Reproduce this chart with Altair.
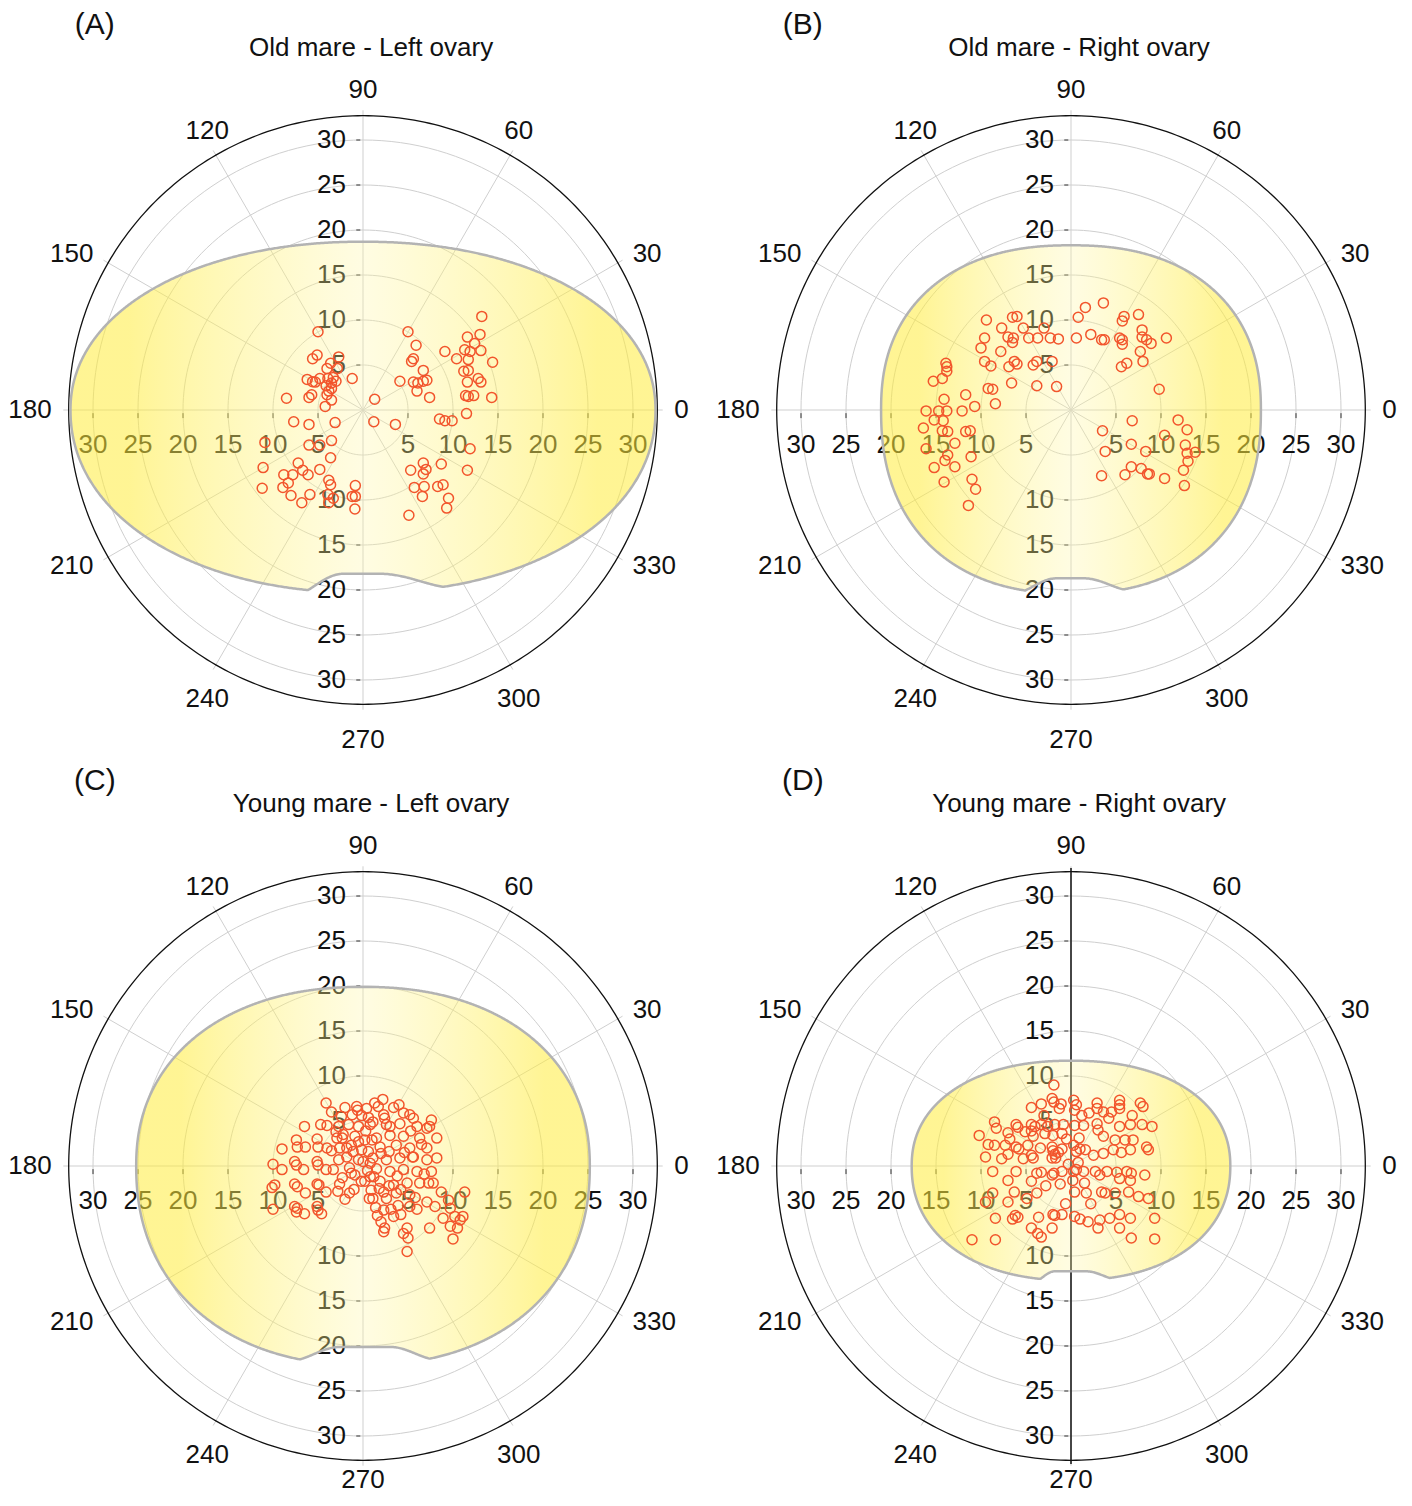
import math
import numpy as np
import pandas as pd
import altair as alt

FONT = "Liberation Sans, Arial, Helvetica, sans-serif"

# ---------------- panel meta ----------------
PANELS = ["A", "B", "C", "D"]
LETTERS = ["(A)", "(B)", "(C)", "(D)"]
TITLES = ["Old mare - Left ovary", "Old mare - Right ovary",
          "Young mare - Left ovary", "Young mare - Right ovary"]
PANEL_DX = [0.0, 708 / 9, 0.0, 708 / 9]
PANEL_DY = [0.0, 0.0, -84.0, -84.0]

GRID_R = [5, 10, 15, 20, 25, 30]
OUTER_R = 32.7
ANGLES = list(range(0, 360, 30))
TOP_TICKS = [5, 10, 15, 20, 25, 30]
BOTTOM_TICKS = [10, 15, 20, 25, 30]
SIDE_TICKS = [5, 10, 15, 20, 25, 30]

# ---------------- ovary outline parameters (mm) ----------------
SHAPE_HALF_WIDTH = [32.5, 21.1, 25.2, 17.7]
SHAPE_TOP = [18.7, 18.3, 19.9, 11.7]
SHAPE_BOTTOM = [20.3, 20.4, 22.1, 12.7]
SHAPE_EXP = [2.1, 2.3, 2.2, 2.2]
NOTCH_LEVEL = [18.2, 18.7, 20.1, 11.7]
NOTCH_OUTER_L = [-6.1, -5.1, -7.0, -3.4]
NOTCH_INNER_L = [-2.2, -1.6, -2.5, -1.8]
NOTCH_INNER_R = [1.9, 1.4, 3.0, 1.7]
NOTCH_OUTER_R = [8.9, 5.8, 7.4, 4.3]

# ---------------- follicle positions (mm, x / y) ----------------
POINTS_A = [
    (-5.0, 8.7), (-5.1, 6.1), (-5.6, 5.7), (-2.7, 5.9), (-3.6, 5.2), (-4.0, 4.6), (-2.85, 4.6),
    (-1.2, 3.5), (-6.2, 3.4), (-5.6, 3.15), (-4.8, 3.5), (-5.3, 3.1), (-3.9, 3.5), (-3.3, 3.6),
    (-3.0, 3.2), (-3.5, 3.0), (-4.1, 2.7), (-3.8, 2.1), (-3.5, 2.4), (-8.5, 1.3), (-6.0, 1.4),
    (-5.7, 1.7), (-4.0, 1.7), (-3.5, 1.1), (-4.2, 0.4),
    (-7.7, -1.3), (-6.0, -1.6), (-3.1, -1.4), (-10.9, -3.6), (-6.0, -3.9), (-4.8, -3.9),
    (-3.5, -3.4), (-3.6, -5.3), (-11.1, -6.4), (-7.2, -5.9), (-6.7, -6.7), (-4.8, -6.6),
    (-6.1, -7.2), (-8.8, -7.2), (-7.8, -7.2), (-8.3, -8.1), (-8.9, -8.6), (-11.2, -8.7),
    (-8.0, -9.5), (-6.8, -10.3), (-5.9, -9.4), (-3.8, -7.8), (-3.6, -8.3), (-3.9, -9.4),
    (-3.3, -9.8), (-3.8, -10.3), (-0.85, -8.4), (-1.2, -9.6), (-0.85, -9.6), (-0.9, -11.0),
    (5.0, 8.7), (5.9, 7.2), (5.6, 5.7), (5.4, 5.4), (6.7, 4.4), (4.1, 3.2), (5.6, 3.1),
    (6.1, 3.0), (6.7, 3.2), (7.1, 3.3), (6.0, 2.1), (7.4, 1.4),
    (13.2, 10.4), (11.6, 8.1), (13.0, 8.4), (12.4, 7.4), (11.3, 6.7), (11.9, 6.5), (13.1, 6.6),
    (9.1, 6.5), (10.4, 5.7), (11.7, 5.6), (14.4, 5.3), (11.2, 4.3), (11.7, 4.4), (11.6, 3.1),
    (12.8, 3.5), (13.1, 3.1), (11.4, 1.6), (11.7, 1.5), (12.3, 1.6), (14.3, 1.4), (11.5, -0.4),
    (1.3, 1.2), (1.2, -1.3), (3.6, -1.6), (8.5, -1.0), (9.1, -1.2), (9.9, -1.2), (11.9, -4.3),
    (11.6, -6.7), (6.7, -5.9), (7.0, -6.6), (5.3, -6.7), (6.7, -7.1), (8.7, -6.0), (5.7, -8.6),
    (6.8, -8.5), (6.6, -9.6), (8.3, -8.5), (8.9, -8.3), (9.5, -9.8), (9.3, -10.9), (5.1, -11.7),
]

POINTS_B = [
    (-9.4, 10.0), (-6.5, 10.3), (-6.0, 10.4), (-7.7, 9.1), (-5.3, 9.1), (-3.0, 9.1), (-9.6, 8.0),
    (-10.0, 6.9), (-7.0, 8.1), (-6.4, 8.0), (-6.5, 7.5), (-4.7, 8.0), (-3.7, 8.0), (-2.3, 8.0),
    (-1.4, 7.9), (-7.8, 6.5), (-9.6, 5.4), (-8.9, 4.9), (-6.9, 4.8), (-6.3, 5.4), (-6.0, 5.1),
    (-4.2, 5.0), (-3.8, 5.4), (-2.1, 5.4), (-9.2, 2.4), (-8.7, 2.3), (-6.6, 3.0), (-3.8, 2.7),
    (-1.6, 2.6), (-8.4, 0.7),
    (-13.9, 5.2), (-13.8, 4.8), (-13.8, 4.3), (-14.3, 3.5), (-15.3, 3.2), (-11.7, 1.7),
    (-14.1, 1.2), (-10.7, 0.4), (-16.1, -0.1), (-14.7, -0.1), (-13.8, -0.1), (-12.1, -0.1),
    (-15.2, -1.1), (-14.2, -1.2), (-16.4, -2.0), (-14.3, -2.3), (-13.7, -2.4), (-11.7, -2.4),
    (-11.2, -2.3), (-12.9, -3.7), (-16.1, -4.3), (-13.7, -5.0), (-11.1, -5.2), (-14.0, -5.6),
    (-15.2, -6.4), (-12.9, -6.3), (-14.1, -8.0), (-11.0, -7.7), (-10.6, -8.8), (-11.4, -10.6),
    (1.6, 11.4), (3.6, 11.9), (0.8, 10.3), (5.9, 10.4), (5.7, 9.9), (7.5, 10.6), (2.2, 8.4),
    (0.6, 8.0), (3.4, 7.8), (3.7, 7.8), (5.4, 8.0), (5.7, 7.8), (5.7, 7.3), (7.9, 8.9),
    (7.9, 8.1), (8.4, 7.8), (8.9, 7.4), (10.6, 8.0), (7.7, 6.5), (8.0, 5.4), (6.2, 5.2),
    (5.6, 4.8), (9.8, 2.3),
    (6.8, -1.2), (3.5, -2.3), (11.9, -1.1), (12.9, -2.2), (10.4, -2.8), (6.7, -3.8), (12.7, -3.9),
    (8.3, -4.6), (3.8, -4.6), (12.9, -4.8), (13.8, -4.7), (13.0, -5.7), (12.5, -6.7), (6.7, -6.3),
    (7.8, -6.5), (8.5, -7.1), (8.7, -7.1), (6.0, -7.2), (3.4, -7.3), (10.4, -7.6), (12.6, -8.4),
]

POINTS_C = [
    (-4.1, 7.0), (-2.0, 6.5), (-0.7, 6.6), (0.4, 6.4), (-2.4, 5.5), (-1.2, 5.7), (-0.15, 5.6),
    (0.6, 5.4), (-6.5, 4.4), (-4.7, 4.6), (-4.0, 4.5), (-2.7, 4.4), (-1.6, 4.6), (-0.5, 4.4),
    (0.8, 4.6), (-7.4, 2.9), (-5.1, 3.0), (-7.3, 2.1), (-6.4, 2.1), (-5.0, 2.1), (-4.0, 2.0),
    (-2.9, 3.1), (-2.3, 3.1), (-1.3, 2.3), (-0.5, 2.7), (0.2, 2.9), (1.0, 2.9), (-9.0, 1.9),
    (-2.6, 2.0), (-1.8, 2.0), (-1.1, 1.6), (-0.15, 1.8), (0.6, 1.6), (-10.0, 0.2), (-9.0, -0.4),
    (-7.6, 0.5), (-7.4, 0.1), (-6.6, -0.4), (-5.1, 0.5), (-5.0, 0.1), (-4.1, -0.4), (-2.7, 0.7),
    (-0.5, 0.7), (0.0, 0.5), (0.8, 0.3), (-9.8, -2.1), (-10.1, -2.4), (-7.6, -2.0), (-7.3, -2.3),
    (-6.4, -3.0), (-5.1, -2.0), (-4.9, -2.1), (-4.1, -2.9), (-2.6, -2.0), (-1.3, -0.8),
    (-0.9, -1.0), (-0.2, -1.7), (0.2, -1.7), (0.8, -1.2), (-2.0, -3.7), (0.7, -3.6),
    (-10.0, -4.8), (-7.6, -4.5), (-7.3, -4.7), (-7.4, -5.1), (-6.5, -5.3), (-5.1, -4.5),
    (-5.0, -4.9), (-4.6, -5.3),
    (1.3, 7.0), (1.7, 6.6), (3.4, 6.5), (2.3, 5.7), (2.4, 5.3), (4.5, 5.9), (5.2, 5.7), (5.6, 5.3),
    (7.6, 5.1), (7.4, 4.4), (1.1, 4.9), (2.6, 4.6), (4.1, 4.7), (6.0, 4.4), (7.1, 4.2), (1.5, 3.1),
    (3.0, 3.4), (4.5, 3.3), (6.3, 3.1), (8.2, 3.1), (1.9, 2.1), (3.7, 2.3), (5.2, 2.0), (7.1, 2.0),
    (8.2, 0.9), (1.1, 0.9), (2.6, 0.7), (4.1, 0.9), (5.6, 1.0), (7.1, 0.7), (7.6, -0.6),
    (1.5, -0.3), (3.0, -0.6), (4.5, -0.4), (6.0, -0.6), (1.9, -1.7), (3.4, -2.1), (4.9, -1.9),
    (6.3, -1.9), (7.3, -1.9), (7.8, -1.9), (2.3, -2.9), (3.7, -3.0), (5.2, -3.2), (1.1, -3.6),
    (2.6, -3.6), (5.2, -4.5), (7.1, -4.0), (8.0, -4.5), (8.7, -2.9), (11.3, -2.9), (9.5, -3.8),
    (9.7, -4.7), (8.9, -5.8), (10.2, -5.6), (10.8, -6.0), (9.7, -6.7), (10.5, -6.9), (11.1, -5.6),
    (2.3, -4.9), (3.4, -5.6), (2.4, -6.9), (2.3, -7.3), (4.9, -6.9), (4.5, -7.5), (7.4, -6.9),
    (5.0, -8.0), (10.0, -8.1), (4.9, -9.5),
    (-3.5, 6.0), (-3.0, 3.8), (-2.2, 3.5), (-1.8, 1.0), (-1.5, -0.2), (-0.9, 3.3), (0.3, 3.9),
    (0.5, -0.5), (1.2, -1.2), (2.0, 1.4), (2.9, 1.6), (3.8, -1.1), (4.6, 1.5), (3.0, 4.4),
    (1.8, -2.5), (2.9, -2.2), (4.2, -2.6), (5.8, -3.5), (1.4, -4.6), (3.9, -4.4), (-1.0, -2.6),
    (-2.3, -1.3), (-3.3, -0.4), (-3.5, 1.7), (-0.6, 6.2), (2.2, 7.4), (4.0, 6.8), (5.3, 3.9),
    (6.5, 2.4), (6.8, -0.9), (0.9, -2.7), (1.6, -5.5), (3.1, -4.8), (2.0, -6.2), (4.2, -5.4),
    (-2.8, -2.8), (-1.5, -3.0), (6.0, -4.8), (5.5, 1.0),
]

POINTS_D = [
    (-1.9, 9.0), (-2.1, 7.5), (-1.9, 7.1), (-3.3, 6.9), (-4.4, 6.5), (-1.1, 6.9), (-1.3, 6.4),
    (-8.5, 4.9), (-8.3, 4.2), (-6.1, 4.6), (-5.9, 4.3), (-4.4, 4.6), (-4.0, 4.4), (-3.3, 4.6),
    (-2.6, 4.4), (-1.8, 4.6), (-0.85, 4.6), (-10.2, 3.4), (-7.0, 3.7), (-5.1, 3.8), (-4.4, 3.9),
    (-4.2, 3.3), (-2.9, 3.6), (-2.0, 3.4), (-1.0, 3.6), (-8.5, 2.3), (-7.3, 2.3), (-6.1, 2.1),
    (-4.8, 2.3), (-3.4, 2.0), (-2.1, 2.1), (-2.0, 1.7), (-1.8, 1.3), (-1.4, 1.5), (-1.0, 1.9),
    (-9.5, 1.0), (-7.7, 0.8), (-7.0, 1.3), (-4.4, 1.2), (-4.2, 0.9), (-5.3, 0.8), (-2.1, 0.9),
    (-1.7, 0.9), (-8.7, -0.6), (-6.1, -0.6), (-3.8, -0.8), (-3.3, -0.7), (-1.9, -0.8),
    (-2.1, -1.0), (-1.0, -0.6), (-7.0, -1.6), (-4.4, -1.7), (-8.7, -3.0), (-9.5, -4.0),
    (-6.3, -2.9), (-3.8, -3.0), (-7.0, -4.0), (-8.4, -5.8), (-6.2, -5.5), (-5.9, -5.7),
    (-6.5, -5.9), (-3.6, -5.7), (-2.0, -5.4), (-1.8, -5.5), (-1.0, -5.4), (-4.4, -6.9),
    (-3.7, -7.5), (-3.3, -7.9), (-2.1, -6.9), (-11.0, -8.2), (-8.4, -8.2),
    (0.3, 7.3), (0.6, 6.8), (0.4, 6.2), (2.9, 7.0), (2.9, 6.4), (5.4, 7.3), (5.4, 6.8), (5.4, 6.4),
    (7.7, 7.0), (8.0, 6.6), (2.0, 5.9), (3.6, 6.0), (4.5, 6.0), (0.4, 4.5), (1.4, 4.5), (2.9, 4.7),
    (3.0, 4.0), (5.4, 4.4), (6.6, 4.6), (7.9, 4.6), (9.0, 4.4), (3.6, 3.3), (4.9, 2.9), (6.0, 2.9),
    (6.9, 2.9), (0.3, 2.3), (0.6, 1.6), (1.0, 1.9), (1.6, 1.8), (2.5, 1.2), (3.6, 1.4), (4.7, 1.8),
    (5.6, 1.5), (6.6, 1.8), (8.4, 2.1), (8.6, 1.8), (0.3, -0.6), (0.6, -0.4), (1.4, -0.6),
    (2.7, -0.6), (3.2, -1.0), (4.0, -0.6), (5.1, -0.7), (6.2, -0.6), (6.7, -0.8), (5.4, -1.4),
    (6.6, -1.6), (8.2, -1.0), (0.4, -2.9), (1.7, -3.0), (3.4, -2.9), (3.8, -3.0), (4.9, -3.0),
    (6.4, -2.9), (7.5, -3.4), (8.6, -3.6), (0.4, -5.6), (1.0, -5.9), (1.9, -6.2), (3.2, -6.0),
    (4.3, -5.8), (5.4, -5.4), (3.0, -6.9), (5.4, -6.9), (6.6, -5.8), (9.3, -5.8), (6.7, -8.0),
    (9.3, -8.1),
    (-0.5, 3.0), (0.9, 3.1), (-0.3, 0.2), (0.8, 0.4), (-1.2, -2.0), (0.2, -1.6), (1.5, -1.9),
    (-2.8, -2.2), (2.2, -4.2), (-0.6, -4.2), (-4.9, -3.6), (-5.8, 1.9), (-3.0, 5.6), (1.2, 5.6),
    (4.2, 5.3), (6.8, 5.6), (-6.8, 3.0), (-9.2, 2.4),
]
POINTS = [POINTS_A, POINTS_B, POINTS_C, POINTS_D]

# ---------------- scales ----------------
PX = 9.0
XMIN = -355 / PX
XMAX = XMIN + 1396 / PX
YMAX = 402 / PX
YMIN = YMAX - 1490 / PX
XS = alt.Scale(domain=[XMIN, XMAX], nice=False, zero=False)
YS = alt.Scale(domain=[YMIN, YMAX], nice=False, zero=False)


def X(f="x"):
    return alt.X(f"{f}:Q", scale=XS, axis=None)


def Y(f="y"):
    return alt.Y(f"{f}:Q", scale=YS, axis=None)


# ---------------- build tables ----------------
grid_rows, outer_rows, radial_rows, tick_rows = [], [], [], []
vlab_rows, hlab_rows, ang_rows, shape_rows, pt_rows, title_rows, letter_rows = [], [], [], [], [], [], []
vline_rows = []
LAB_R = 34.6
for p, (dx, dy) in enumerate(zip(PANEL_DX, PANEL_DY)):
    for r in GRID_R:
        for k, t in enumerate(range(0, 361, 2)):
            th = math.radians(t)
            grid_rows.append(dict(key=f"{p}-{r}", k=k, x=dx + r * math.cos(th), y=dy + r * math.sin(th)))
    for k, t in enumerate(range(0, 361, 1)):
        th = math.radians(t)
        outer_rows.append(dict(key=f"{p}", k=k, x=dx + OUTER_R * math.cos(th), y=dy + OUTER_R * math.sin(th)))
    for a in ANGLES:
        th = math.radians(a)
        c, s = math.cos(th), math.sin(th)
        radial_rows.append(dict(x=dx, y=dy, x2=dx + (OUTER_R + 0.6) * c, y2=dy + (OUTER_R + 0.6) * s))
        lab = str(a)
        hw = 0.8 * len(lab)
        lx = LAB_R * c + (math.copysign(hw, c) if abs(c) > 0.7 else 0.0)
        ly = LAB_R * s + (1.0 if s > 0.7 else (-2.1 if s < -0.7 else 0.0))
        ly = max(dy + ly, YMIN + 2.0) - dy
        ang_rows.append(dict(x=dx + lx, y=dy + ly, t=lab))
    for r in TOP_TICKS:
        tick_rows.append(dict(x=dx - 0.75, x2=dx - 0.3, y=dy + r, y2=dy + r))
        vlab_rows.append(dict(x=dx - 1.9, y=dy + r, t=str(r)))
    for r in BOTTOM_TICKS:
        tick_rows.append(dict(x=dx - 0.75, x2=dx - 0.3, y=dy - r, y2=dy - r))
        vlab_rows.append(dict(x=dx - 1.9, y=dy - r, t=str(r)))
    for r in SIDE_TICKS:
        for sgn in (-1, 1):
            tick_rows.append(dict(x=dx + sgn * r, x2=dx + sgn * r, y=dy - 0.35, y2=dy - 0.9))
            hlab_rows.append(dict(x=dx + sgn * r, y=dy - 3.9, t=str(r)))
    if PANELS[p] == "D":
        vline_rows.append(dict(x=dx, x2=dx, y=dy + OUTER_R + 0.4, y2=dy - OUTER_R - 0.4))

    # ovary outline
    a = SHAPE_HALF_WIDTH[p]
    bt, bb, pe = SHAPE_TOP[p], SHAPE_BOTTOM[p], SHAPE_EXP[p]
    L0, L1, R1, R0 = NOTCH_OUTER_L[p], NOTCH_INNER_L[p], NOTCH_INNER_R[p], NOTCH_OUTER_R[p]
    nl = NOTCH_LEVEL[p]
    for t in np.linspace(0, math.pi, 721):
        ct, st = math.cos(t), math.sin(t)
        xv = a * math.copysign(abs(ct) ** (2 / pe), ct)
        top = bt * abs(st) ** (2 / pe)
        u = max(0.0, 1 - abs(xv / a) ** pe)
        eb = bb * u ** (1 / pe)
        if L1 <= xv <= R1:
            w = 1.0
        elif L0 < xv < L1:
            w = math.sin(math.pi / 2 * (xv - L0) / (L1 - L0))
        elif R1 < xv < R0:
            w = math.sin(math.pi / 2 * (R0 - xv) / (R0 - R1))
        else:
            w = 0.0
        bot = eb - w * (eb - nl)
        shape_rows.append(dict(panel=PANELS[p], x=dx + xv, y=dy + top, y2=dy - bot))

    for (px_, py_) in POINTS[p]:
        pt_rows.append(dict(panel=PANELS[p], x=dx + px_, y=dy + py_))
    title_rows.append(dict(x=dx + 0.9, y=dy + 40.2, t=TITLES[p]))
    letter_rows.append(dict(x=dx - 29.8, y=dy + 42.8, t=LETTERS[p]))

grid_df = pd.DataFrame(grid_rows)
outer_df = pd.DataFrame(outer_rows)
radial_df = pd.DataFrame(radial_rows)
tick_df = pd.DataFrame(tick_rows)
vlab_df = pd.DataFrame(vlab_rows)
hlab_df = pd.DataFrame(hlab_rows)
ang_df = pd.DataFrame(ang_rows)
shape_df = pd.DataFrame(shape_rows)
pt_df = pd.DataFrame(pt_rows)
title_df = pd.DataFrame(title_rows)
letter_df = pd.DataFrame(letter_rows)
vline_df = pd.DataFrame(vline_rows)

# ---------------- layers ----------------
grid = alt.Chart(grid_df).mark_line(color="#cfcfcf", strokeWidth=1).encode(
    x=X(), y=Y(), detail="key:N", order="k:Q")
radial = alt.Chart(radial_df).mark_rule(color="#cfcfcf", strokeWidth=1).encode(
    x=X(), y=Y(), x2="x2:Q", y2="y2:Q")
outer = alt.Chart(outer_df).mark_line(color="#111111", strokeWidth=1.3).encode(
    x=X(), y=Y(), detail="key:N", order="k:Q")
ticks = alt.Chart(tick_df).mark_rule(color="#333333", strokeWidth=1).encode(
    x=X(), y=Y(), x2="x2:Q", y2="y2:Q")
vline = alt.Chart(vline_df).mark_rule(color="#111111", strokeWidth=1.5).encode(
    x=X(), y=Y(), x2="x2:Q", y2="y2:Q")
vlab = alt.Chart(vlab_df).mark_text(font=FONT, fontSize=26, color="#111111", align="right",
                                    baseline="middle").encode(x=X(), y=Y(), text="t:N")
hlab = alt.Chart(hlab_df).mark_text(font=FONT, fontSize=26, color="#111111", align="center",
                                    baseline="middle").encode(x=X(), y=Y(), text="t:N")
ang = alt.Chart(ang_df).mark_text(font=FONT, fontSize=26, color="#111111", align="center",
                                  baseline="middle").encode(x=X(), y=Y(), text="t:N")

grad = alt.Gradient(
    gradient="linear", x1=0, x2=1, y1=0, y2=0,
    stops=[
        alt.GradientStop(color="rgba(255,236,60,0.55)", offset=0),
        alt.GradientStop(color="rgba(255,236,60,0.55)", offset=0.1),
        alt.GradientStop(color="rgba(255,246,160,0.30)", offset=0.5),
        alt.GradientStop(color="rgba(255,236,60,0.55)", offset=0.9),
        alt.GradientStop(color="rgba(255,236,60,0.55)", offset=1),
    ],
)
shape = alt.Chart(shape_df).mark_area(fill=grad, stroke="#b3b3b3", strokeWidth=2.5,
                                      strokeJoin="round").encode(
    x=X(), y=Y(), y2="y2:Q", detail="panel:N")
pts = alt.Chart(pt_df).mark_point(shape="circle", filled=False, size=100, strokeWidth=1.5,
                                  color="#f2552c", opacity=1).encode(x=X(), y=Y())
titles = alt.Chart(title_df).mark_text(font=FONT, fontSize=26, color="#111111", align="center",
                                       baseline="middle").encode(x=X(), y=Y(), text="t:N")
letters = alt.Chart(letter_df).mark_text(font=FONT, fontSize=30, color="#111111", align="center",
                                         baseline="middle").encode(x=X(), y=Y(), text="t:N")

chart = alt.layer(grid, radial, outer, ticks, vline, vlab, hlab, ang, shape, pts, titles, letters).properties(
    width=1396, height=1490,
    autosize=alt.AutoSizeParams(type="none"),
    padding=0,
).configure_view(stroke=None)

chart.save("out.html", embed_options={"renderer": "svg", "actions": False})
